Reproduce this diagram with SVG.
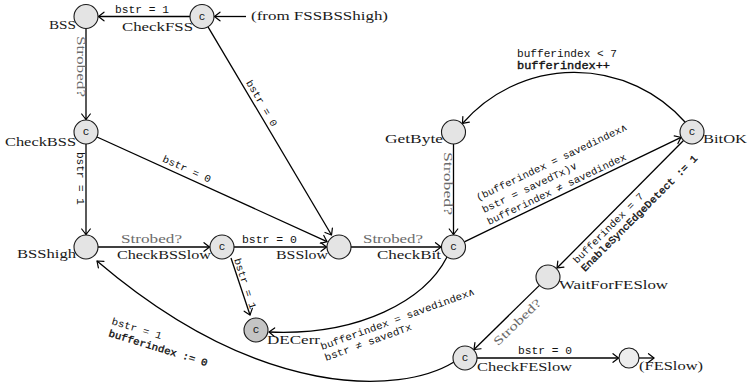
<svg xmlns="http://www.w3.org/2000/svg" width="747" height="383" viewBox="0 0 747 383">
<style>
.loc{fill:#e4e4e4;stroke:#1a1a1a;stroke-width:1.1}
.err{fill:#c4c4c4}
.fe{fill:#ededed}
.e{fill:none;stroke:#000;stroke-width:1.3;marker-end:url(#ah)}
.nl{font-family:"Liberation Serif","Times New Roman",serif;font-size:12px;fill:#1a1a1a}
.s{font-family:"Liberation Serif","Times New Roman",serif;font-size:12px;fill:#6b6b6b}
.g{font-family:"Liberation Mono","DejaVu Sans Mono",monospace;font-size:10px;fill:#111}
.u{font-family:"Liberation Mono","DejaVu Sans Mono",monospace;font-size:10px;fill:#111;stroke:#111;stroke-width:0.35}
.c{font-family:"Liberation Mono","DejaVu Sans Mono",monospace;font-size:11px;fill:#111;text-anchor:middle}
</style>
<defs>
<marker id="ah" markerUnits="userSpaceOnUse" viewBox="-10 -6 12 12" markerWidth="12" markerHeight="12" refX="0" refY="0" orient="auto" overflow="visible">
<path d="M -5.5,-4.3 Q -1.6,-1.3 0,0 Q -1.6,1.3 -5.5,4.3" fill="none" stroke="#000" stroke-width="1.2" stroke-linecap="round"/>
</marker>
</defs>
<rect width="747" height="383" fill="#fff"/>
<g id="connectors">
 <g id="e-from"><path class="e" d="M 246,16.5 L 214.5,16.5"/></g>
 <g id="e-CheckFSS-BSS"><path class="e" d="M 190,16.5 L 98.5,16.5"/><text class="g" x="115" y="13" textLength="54" lengthAdjust="spacingAndGlyphs">bstr = 1</text></g>
 <g id="e-BSS-CheckBSS"><path class="e" d="M 86,28.5 L 86,119.5"/><text class="s" transform="translate(77,66.5) rotate(90)" text-anchor="middle" textLength="61" lengthAdjust="spacingAndGlyphs">Strobed?</text></g>
 <g id="e-CheckBSS-BSShigh"><path class="e" d="M 86,144 L 86,234.5"/><text class="g" transform="translate(76.5,178.5) rotate(90)" text-anchor="middle" textLength="53" lengthAdjust="spacingAndGlyphs">bstr = 1</text></g>
 <g id="e-BSShigh-CheckBSSlow"><path class="e" d="M 98,247 L 209.5,247"/><text class="s" x="121" y="243" textLength="61" lengthAdjust="spacingAndGlyphs">Strobed?</text></g>
 <g id="e-CheckBSSlow-BSSlow"><path class="e" d="M 234,247 L 326.5,247"/><text class="g" x="242" y="243" textLength="55" lengthAdjust="spacingAndGlyphs">bstr = 0</text></g>
 <g id="e-CheckBSSlow-DECerr"><path class="e" d="M 231,258 L 250,315"/><text class="g" transform="translate(242.2,284.6) rotate(72)" text-anchor="middle" textLength="53" lengthAdjust="spacingAndGlyphs">bstr = 1</text></g>
 <g id="e-CheckFSS-BSSlow"><path class="e" d="M 208,26.8 L 331.5,235"/><text class="g" transform="translate(259,104.8) rotate(59.6)" text-anchor="middle" textLength="52" lengthAdjust="spacingAndGlyphs">bstr = 0</text></g>
 <g id="e-CheckBSS-BSSlow"><path class="e" d="M 97,137 L 327,241.6"/><text class="g" transform="translate(185.5,172) rotate(24.5)" text-anchor="middle" textLength="52" lengthAdjust="spacingAndGlyphs">bstr = 0</text></g>
 <g id="e-BSSlow-CheckBit"><path class="e" d="M 351,247 L 441,247"/><text class="s" x="363" y="243" textLength="60" lengthAdjust="spacingAndGlyphs">Strobed?</text></g>
 <g id="e-GetByte-CheckBit"><path class="e" d="M 453.5,144 L 453.5,234.5"/><text class="s" transform="translate(444,183.5) rotate(90)" text-anchor="middle" textLength="63" lengthAdjust="spacingAndGlyphs">Strobed?</text></g>
 <g id="e-CheckBit-BitOK"><path class="e" d="M 464.3,241.8 L 681,137.3"/>
  <text class="g" transform="translate(478,201) rotate(-25.5)" textLength="166" lengthAdjust="spacingAndGlyphs">(bufferindex = savedindex∧</text>
  <text class="g" transform="translate(484,213) rotate(-25.5)" textLength="104" lengthAdjust="spacingAndGlyphs">bstr = savedTx)∨</text>
  <text class="g" transform="translate(489,225) rotate(-25.5)" textLength="153" lengthAdjust="spacingAndGlyphs">bufferindex ≠ savedindex</text>
 </g>
 <g id="e-BitOK-GetByte"><path class="e" d="M 685,122 A 148 148 0 0 0 462.5,123.5"/>
  <text class="g" x="517" y="57" textLength="100" lengthAdjust="spacingAndGlyphs">bufferindex &lt; 7</text>
  <text class="u" x="517" y="69" textLength="93" lengthAdjust="spacingAndGlyphs">bufferindex++</text>
 </g>
 <g id="e-BitOK-WaitForFESlow"><path class="e" d="M 683.5,140.5 L 557,268"/>
  <text class="g" transform="translate(577,264) rotate(-45)" textLength="95" lengthAdjust="spacingAndGlyphs">bufferindex = 7</text>
  <text class="u" transform="translate(585,272) rotate(-45)" textLength="160" lengthAdjust="spacingAndGlyphs">EnableSyncEdgeDetect := 1</text>
 </g>
 <g id="e-WaitForFESlow-CheckFESlow"><path class="e" d="M 539.4,285.4 L 474,349.5"/><text class="s" transform="translate(520,325) rotate(-44)" text-anchor="middle" textLength="61" lengthAdjust="spacingAndGlyphs">Strobed?</text></g>
 <g id="e-CheckFESlow-FESlow"><path class="e" d="M 477,358 L 618.5,358"/><text class="g" x="518" y="354" textLength="54" lengthAdjust="spacingAndGlyphs">bstr = 0</text></g>
 <g id="e-FESlow-out"><path class="e" d="M 639,358 L 654,358"/></g>
 <g id="e-CheckBit-DECerr"><path class="e" d="M 447,257 C 425,300 360,336 269,332"/>
  <text class="g" transform="translate(322,350) rotate(-20)" textLength="163" lengthAdjust="spacingAndGlyphs">bufferindex = savedindex∧</text>
  <text class="g" transform="translate(326,361) rotate(-20)" textLength="92" lengthAdjust="spacingAndGlyphs">bstr ≠ savedTx</text>
 </g>
 <g id="e-CheckFESlow-BSShigh"><path class="e" d="M 454,362 C 400,395 260,400 97,261"/>
  <text class="g" transform="translate(111,324) rotate(17)" textLength="52" lengthAdjust="spacingAndGlyphs">bstr = 1</text>
  <text class="u" transform="translate(108,336) rotate(17)" textLength="103" lengthAdjust="spacingAndGlyphs">bufferindex := 0</text>
 </g>
</g>
<g id="from-label"><text class="nl" x="251" y="19.5" textLength="137" lengthAdjust="spacingAndGlyphs">(from FSSBSShigh)</text></g>
<g id="BSS"><circle class="loc" cx="86" cy="16.5" r="12"/><text class="nl" x="49" y="29" textLength="27" lengthAdjust="spacingAndGlyphs">BSS</text></g>
<g id="CheckFSS"><circle class="loc" cx="202" cy="16.5" r="12"/><text class="c" x="202" y="19.5">c</text><text class="nl" x="122" y="31" textLength="71" lengthAdjust="spacingAndGlyphs">CheckFSS</text></g>
<g id="CheckBSS"><circle class="loc" cx="86" cy="132" r="12"/><text class="c" x="86" y="135">c</text><text class="nl" x="5" y="146" textLength="71" lengthAdjust="spacingAndGlyphs">CheckBSS</text></g>
<g id="BSShigh"><circle class="loc" cx="86" cy="247" r="12"/><text class="nl" x="17" y="258" textLength="59" lengthAdjust="spacingAndGlyphs">BSShigh</text></g>
<g id="CheckBSSlow"><circle class="loc" cx="222" cy="247" r="12"/><text class="c" x="222" y="250">c</text><text class="nl" x="117" y="259" textLength="94" lengthAdjust="spacingAndGlyphs">CheckBSSlow</text></g>
<g id="BSSlow"><circle class="loc" cx="339" cy="247" r="12"/><text class="nl" x="276" y="259" textLength="52" lengthAdjust="spacingAndGlyphs">BSSlow</text></g>
<g id="CheckBit"><circle class="loc" cx="453.5" cy="247" r="12"/><text class="c" x="453.5" y="250">c</text><text class="nl" x="377" y="259" textLength="64" lengthAdjust="spacingAndGlyphs">CheckBit</text></g>
<g id="GetByte"><circle class="loc" cx="453.5" cy="132" r="12"/><text class="nl" x="385" y="143" textLength="58" lengthAdjust="spacingAndGlyphs">GetByte</text></g>
<g id="BitOK"><circle class="loc" cx="692" cy="132" r="12"/><text class="c" x="692" y="135">c</text><text class="nl" x="703" y="143" textLength="44" lengthAdjust="spacingAndGlyphs">BitOK</text></g>
<g id="WaitForFESlow"><circle class="loc" cx="548" cy="277" r="12"/><text class="nl" x="559" y="289" textLength="109" lengthAdjust="spacingAndGlyphs">WaitForFESlow</text></g>
<g id="CheckFESlow"><circle class="loc" cx="465" cy="358" r="12"/><text class="c" x="465" y="361">c</text><text class="nl" x="477" y="371" textLength="95" lengthAdjust="spacingAndGlyphs">CheckFESlow</text></g>
<g id="FESlow"><circle class="loc fe" cx="629" cy="358" r="10"/><text class="nl" x="639" y="370" textLength="64" lengthAdjust="spacingAndGlyphs">(FESlow)</text></g>
<g id="DECerr"><circle class="loc err" cx="256" cy="330" r="12"/><text class="c" x="256" y="333">c</text><text class="nl" x="267" y="344" textLength="53" lengthAdjust="spacingAndGlyphs">DECerr</text></g>
</svg>
